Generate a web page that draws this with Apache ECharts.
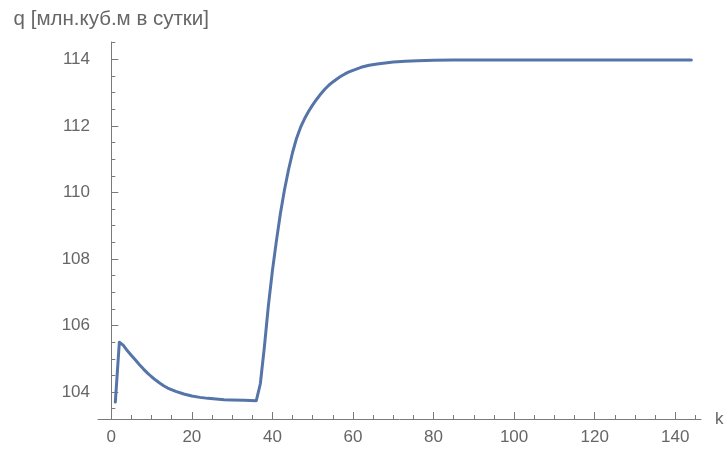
<!DOCTYPE html>
<html>
<head>
<meta charset="utf-8">
<script src="https://cdn.jsdelivr.net/npm/echarts@6/dist/echarts.min.js"></script>
<style>
  html, body { margin: 0; padding: 0; background: #fff; }
  #chart { width: 728px; height: 452px; }
</style>
</head>
<body>
<div id="chart"></div>
<script>
// Daily gas flow q versus step k
const kValues = [1, 2, 3, 4, 5, 6, 7, 8, 9, 10, 11, 12, 13, 14, 16, 18, 20, 22, 24, 26, 28, 30, 33, 36,
  37, 38, 39, 40, 41, 42, 43, 44, 45, 46, 47, 48, 49, 50, 51, 52, 53, 54, 55, 56, 57, 58, 59, 60,
  62, 64, 66, 68, 70, 73, 76, 80, 85, 90, 100, 120, 144];
const qValues = [103.70, 105.50, 105.40, 105.24, 105.10, 104.96, 104.82, 104.69, 104.57, 104.46, 104.36, 104.27, 104.19, 104.12, 104.02, 103.94, 103.88, 103.84, 103.81, 103.79, 103.77, 103.76, 103.75, 103.74,
  104.25, 105.35, 106.60, 107.65, 108.55, 109.38, 110.08, 110.68, 111.20, 111.63, 111.96, 112.22, 112.44, 112.63, 112.80, 112.96, 113.10, 113.22, 113.32, 113.41, 113.49, 113.56, 113.62, 113.67,
  113.76, 113.82, 113.86, 113.89, 113.92, 113.94, 113.96, 113.97, 113.98, 113.98, 113.98, 113.98, 113.98];

// Axis ticks and labels
const xMajor = [0, 20, 40, 60, 80, 100, 120, 140];
const xMinor = [5, 10, 15, 25, 30, 35, 45, 50, 55, 65, 70, 75, 85, 90, 95, 105, 110, 115, 125, 130, 135, 145];
const yMajor = [104, 106, 108, 110, 112, 114];
const yMinor = [103.5, 104.5, 105, 105.5, 106.5, 107, 107.5, 108.5, 109, 109.5, 110.5, 111, 111.5, 112.5, 113, 113.5, 114.5];

const xRange = [-3.3, 146.4];
const yRange = [103.19, 114.52];

const axisColor = '#7a7a7a';
const textColor = '#666666';
const font = 'Liberation Sans, Arial, sans-serif';

const points = kValues.map((k, i) => [k, qValues[i]]);

const chart = echarts.init(document.getElementById('chart'), null, { renderer: 'canvas' });

chart.setOption({
  animation: false,
  backgroundColor: '#ffffff',
  grid: { left: 98, right: 27, top: 42, bottom: 33, containLabel: false },
  xAxis: [
    {
      type: 'value', min: xRange[0], max: xRange[1], position: 'bottom',
      name: 'k', nameLocation: 'end', nameGap: 14,
      nameTextStyle: { color: textColor, fontSize: 17, fontFamily: font, padding: [0, 0, 6, 0] },
      axisLine: { show: true, onZero: false, lineStyle: { color: axisColor, width: 1 } },
      axisTick: { show: true, inside: true, length: 7, customValues: xMajor, lineStyle: { color: axisColor } },
      axisLabel: { show: true, customValues: xMajor, margin: 10, color: textColor, fontSize: 17, fontFamily: font },
      splitLine: { show: false }
    },
    {
      type: 'value', min: xRange[0], max: xRange[1], position: 'bottom',
      axisLine: { show: false, onZero: false },
      axisTick: { show: true, inside: true, length: 4, customValues: xMinor, lineStyle: { color: axisColor } },
      axisLabel: { show: false },
      splitLine: { show: false }
    }
  ],
  yAxis: [
    {
      type: 'value', min: yRange[0], max: yRange[1], position: 'left',
      name: 'q [млн.куб.м в сутки]', nameLocation: 'end', nameGap: 12,
      nameTextStyle: { color: textColor, fontSize: 20.5, fontFamily: font },
      axisLine: { show: true, onZero: true, onZeroAxisIndex: 0, lineStyle: { color: axisColor, width: 1 } },
      axisTick: { show: true, inside: true, length: 7, customValues: yMajor, lineStyle: { color: axisColor } },
      axisLabel: { show: true, customValues: yMajor, margin: 8, color: textColor, fontSize: 17, fontFamily: font },
      splitLine: { show: false }
    },
    {
      type: 'value', min: yRange[0], max: yRange[1], position: 'left',
      axisLine: { show: false, onZero: true, onZeroAxisIndex: 1 },
      axisTick: { show: true, inside: true, length: 4, customValues: yMinor, lineStyle: { color: axisColor } },
      axisLabel: { show: false },
      splitLine: { show: false }
    }
  ],
  series: [{
    type: 'line',
    xAxisIndex: 0,
    yAxisIndex: 0,
    data: points,
    showSymbol: false,
    smooth: false,
    lineStyle: { color: '#5574a8', width: 3, cap: 'round', join: 'round' },
    itemStyle: { color: '#5574a8' }
  }]
});
</script>
</body>
</html>
